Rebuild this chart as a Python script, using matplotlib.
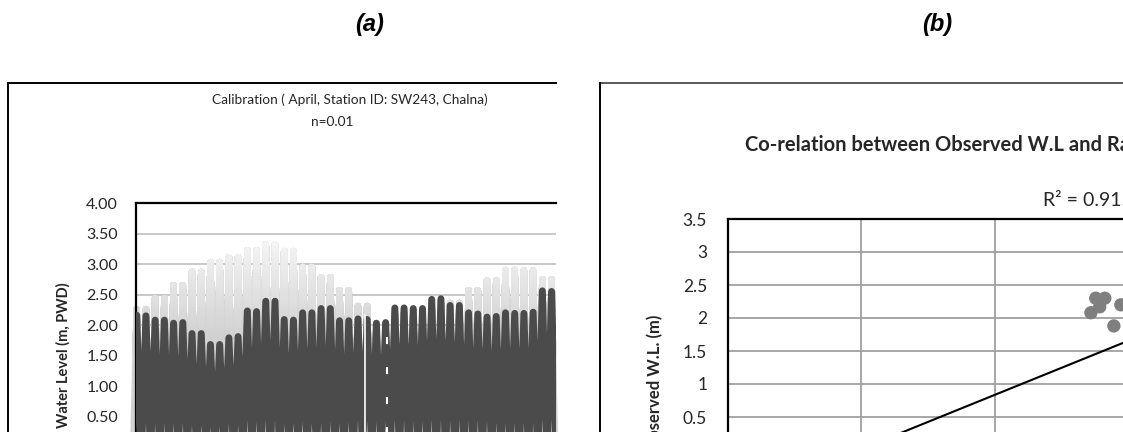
import numpy as np
import matplotlib.pyplot as plt
from matplotlib.lines import Line2D
from matplotlib.patches import Rectangle
from matplotlib.ticker import FuncFormatter

plt.rcParams['font.family'] = ['Lato', 'DejaVu Sans']

# ---- (a) calibration series: one value per high water and per low water ----
sim_high = [2.16, 2.15, 2.08, 2.08, 2.03, 2.04, 1.86, 1.86, 1.68, 1.68,
            1.79, 1.81, 2.23, 2.22, 2.39, 2.39, 2.09, 2.08, 2.20, 2.20,
            2.27, 2.27, 2.07, 2.07, 2.10, 2.09, 2.03, 2.04, 2.28, 2.28,
            2.27, 2.27, 2.42, 2.43, 2.32, 2.32, 2.20, 2.18, 2.13, 2.14,
            2.20, 2.19, 2.19, 2.21, 2.56, 2.55]
sim_low = [-0.18, -0.22, -0.15, -0.20, -0.12, -0.18, -0.10, -0.16, -0.08, -0.12,
           -0.06, -0.10, -0.12, -0.18, -0.16, -0.22, -0.20, -0.16, -0.14, -0.18,
           -0.20, -0.22, -0.16, -0.14, -0.12, -0.10, -0.14, -0.10, -0.12, -0.16,
           -0.18, -0.20, -0.16, -0.22, -0.20, -0.18, -0.16, -0.14, -0.12, -0.16,
           -0.18, -0.20, -0.18, -0.20, -0.22, -0.24, -0.20]
obs_high = [2.26, 2.26, 2.44, 2.44, 2.65, 2.65, 2.87, 2.87, 3.03, 3.03,
            3.11, 3.11, 3.22, 3.22, 3.32, 3.32, 3.21, 3.21, 2.95, 2.95,
            2.78, 2.78, 2.57, 2.57, 2.31, 2.31, 2.00, 2.00, 2.20, 2.20,
            2.23, 2.23, 2.35, 2.35, 2.36, 2.36, 2.57, 2.57, 2.73, 2.73,
            2.90, 2.90, 2.89, 2.89, 2.75, 2.75]
obs_low = [-0.70, -0.75, -0.68, -0.72, -0.80, -0.85, -0.90, -0.95, -1.00, -1.00,
           -1.05, -1.00, -0.95, -0.90, -0.85, -0.80, -0.75, -0.70, -0.72, -0.68,
           -0.66, -0.64, -0.62, -0.60, -0.62, -0.64, -0.66, -0.70, -0.72, -0.74,
           -0.76, -0.78, -0.80, -0.82, -0.84, -0.86, -0.88, -0.90, -0.92, -0.94,
           -0.96, -0.98, -0.96, -0.94, -0.92, -0.90, -0.88]
# breaks in the record (tide index, level reached, solid/dashed)
break_x = [24.76, 27.18]
break_top = [2.17, 1.80]
break_dashed = [False, True]
yticks_a = [0.5, 1.0, 1.5, 2.0, 2.5, 3.0, 3.5, 4.0]

# ---- (b) observed vs simulated ----
sim_wl = [1.378, 1.412, 1.393, 1.360, 1.446, 1.472]
obs_wl = [2.30, 2.30, 2.17, 2.08, 1.88, 2.20]
trend_slope = 1.638
trend_icpt = -0.802
trend_range = [0.4, 2.6]
r_squared = 0.9152
ticks_b = [0.5, 1.0, 1.5, 2.0, 2.5, 3.0, 3.5]

W, H = 1123, 432
fig = plt.figure(figsize=(W / 100, H / 100), dpi=100)


def box(left, top, right, bottom):
    # pixel box -> figure fraction rect
    return [left / W, 1 - bottom / H, (right - left) / W, (bottom - top) / H]


def zigzag(high, low):
    xs, ys = [], []
    for i, h in enumerate(high):
        xs += [i - 0.5, i]
        ys += [low[i], h]
    xs.append(len(high) - 0.5)
    ys.append(low[len(high)])
    return np.array(xs), np.array(ys)


txt = '#262626'

# ---------------- panel (a) ----------------
ax1 = fig.add_axes(box(136, 203, 556, 447))
ax1.set_xlim(-0.076, 45.48)
ax1.set_ylim(0, 4)

ox, oy = zigzag(obs_high, obs_low)
# observed: light line shaded from white-ish at the top to grey lower down
levels = np.arange(1.5, 3.6, 0.05)
for lev in np.concatenate([[-5], levels]):
    g = np.clip(0.82 + (0.965 - 0.82) * (lev - 1.8) / (3.4 - 1.8), 0.82, 0.965)
    ln, = ax1.plot(ox, oy, color=(g, g, g), lw=4.6,
                   solid_joinstyle='round', solid_capstyle='round', zorder=2)
    clip = Rectangle((-5, lev), 60, 10, transform=ax1.transData)
    ln.set_clip_path(clip)

sx, sy = zigzag(sim_high, sim_low)
ax1.plot(sx, sy, color='#4b4b4b', lw=5.0,
         solid_joinstyle='round', solid_capstyle='round', zorder=3)

for bx, bt, dashed in zip(break_x, break_top, break_dashed):
    if dashed:
        ax1.plot([bx, bx], [bt, 0], color='white', lw=1.5, zorder=4,
                 dashes=(3.4, 11))
    else:
        ax1.plot([bx, bx], [bt, 0], color='#f2f2f2', lw=1.3, zorder=4)

ax1.set_yticks(yticks_a)
ax1.yaxis.set_major_formatter(FuncFormatter(lambda v, p: f'{v:.2f}'))
ax1.set_xticks([])
ax1.tick_params(axis='y', length=0, pad=13, labelsize=11.5, labelcolor=txt)
ax1.grid(axis='y', color='#bfbfbf', lw=1.2, zorder=0)
ax1.set_axisbelow(True)
for s in ['right', 'bottom']:
    ax1.spines[s].set_visible(False)
for s in ['left', 'top']:
    ax1.spines[s].set_linewidth(1.6)
    ax1.spines[s].set_color('black')

# ---------------- panel (b) ----------------
ax2 = fig.add_axes(box(728, 219, 1662, 450))
ax2.set_xlim(0, 3.5)
ax2.set_ylim(0, 3.5)
ax2.scatter(sim_wl, obs_wl, s=92, color='#7f7f7f', edgecolors='none', zorder=3)
tx = np.array(trend_range)
ax2.plot(tx, trend_slope * tx + trend_icpt, color='black', lw=1.5, zorder=4)
ax2.set_xticks(ticks_b)
ax2.set_yticks(ticks_b)
ax2.yaxis.set_major_formatter(FuncFormatter(lambda v, p: f'{v:g}'))
ax2.tick_params(axis='y', length=0, pad=15, labelsize=12.5, labelcolor=txt)
ax2.tick_params(axis='x', length=0, labelbottom=False)
ax2.grid(True, color='#a0a0a0', lw=1.3, zorder=0)
ax2.set_axisbelow(True)
for s in ['right', 'bottom']:
    ax2.spines[s].set_visible(False)
for s in ['left', 'top']:
    ax2.spines[s].set_linewidth(1.6)
    ax2.spines[s].set_color('black')

# ---------------- chart frames and text ----------------
fig.add_artist(Line2D([8 / W, 556 / W], [1 - 83 / H] * 2, color='black', lw=1.4))
fig.add_artist(Line2D([8 / W] * 2, [1 - 83 / H, -0.1], color='black', lw=1.4))
fig.add_artist(Line2D([600 / W, 1.05], [1 - 83 / H] * 2, color='#5a5a5a', lw=1.4))
fig.add_artist(Line2D([600 / W] * 2, [1 - 83 / H, -0.1], color='black', lw=1.4))

for xc, lab in [(370, '(a)'), (937, '(b)')]:
    fig.text(xc / W, 1 - 25 / H, lab, ha='center', va='center', fontsize=17,
             fontweight='bold', fontstyle='italic', family='Liberation Sans')

fig.text(350 / W, 1 - 100 / H, 'Calibration ( April, Station ID: SW243, Chalna)',
         ha='center', va='center', fontsize=9.8, color=txt)
fig.text(332 / W, 1 - 122 / H, 'n=0.01', ha='center', va='center',
         fontsize=9.8, color=txt)
fig.text(63 / W, 1 - 355 / H, 'Water Level (m, PWD)', rotation=90,
         ha='center', va='center', fontsize=10.5, fontweight='bold', color=txt)

fig.text(745 / W, 1 - 145 / H, 'Co-relation between Observed W.L and Rainfall',
         ha='left', va='center', fontsize=14.5, fontweight='bold', color=txt)
fig.text(1043 / W, 1 - 201 / H, f'R² = {r_squared:.4f}', ha='left', va='center',
         fontsize=14, color=txt)
fig.text(655 / W, 1 - 315 / H, 'Observed W.L. (m)', rotation=90,
         ha='center', va='top', fontsize=12, fontweight='bold', color=txt)

fig.savefig('out.png', dpi=100)
